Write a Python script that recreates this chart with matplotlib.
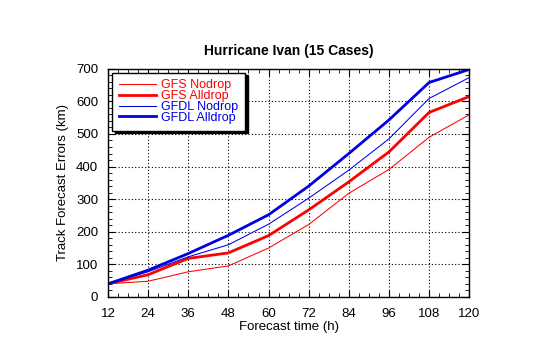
import numpy as np
import matplotlib
matplotlib.use("Agg")
import matplotlib.pyplot as plt
from matplotlib.ticker import MultipleLocator

plt.rcParams['font.family'] = ['Liberation Sans', 'DejaVu Sans']

# Track errors (km) for Ivan, 15 cases
hours = [12, 24, 36, 48, 60, 72, 84, 96, 108, 120]
gfs_nodrop = [40, 48, 77, 95, 150, 222, 318, 391, 490, 559]
gfs_alldrop = [40, 68, 118, 135, 188, 267, 353, 445, 566, 615]
gfdl_nodrop = [40, 77, 123, 160, 223, 303, 389, 485, 609, 673]
gfdl_alldrop = [40, 82, 133, 189, 252, 340, 440, 543, 658, 698]

red = "#ff0000"
blue = "#0000e0"

fig = plt.figure(figsize=(5.4, 3.44), dpi=100)
ax = fig.add_axes([0.2, 0.137, 0.669, 0.663])

ax.plot(hours, gfs_nodrop, color=red, lw=0.75, label="GFS Nodrop")
ax.plot(hours, gfs_alldrop, color=red, lw=2.0, label="GFS Alldrop")
ax.plot(hours, gfdl_nodrop, color=blue, lw=0.75, label="GFDL Nodrop")
ax.plot(hours, gfdl_alldrop, color=blue, lw=2.0, label="GFDL Alldrop")

ax.set_xlim(12, 120)
ax.set_ylim(0, 700)
ax.xaxis.set_major_locator(MultipleLocator(12))
ax.xaxis.set_minor_locator(MultipleLocator(3))
ax.yaxis.set_major_locator(MultipleLocator(100))
ax.yaxis.set_minor_locator(MultipleLocator(20))
ax.tick_params(which="both", direction="in", top=True, right=True,
               labelsize=9.5, color="black")
ax.tick_params(which="major", length=5)
ax.tick_params(which="minor", length=3)
ax.tick_params(axis="x", which="major", pad=8)
ax.tick_params(axis="y", which="major", pad=7)
ax.grid(True, which="major", color="black", ls=(0, (1, 2)), lw=0.8)
for s in ax.spines.values():
    s.set_linewidth(1.0)

ax.set_title("Hurricane Ivan (15 Cases)", fontsize=10, fontweight="bold", pad=10)
ax.set_xlabel("Forecast time (h)", fontsize=9.5, labelpad=1)
ax.set_ylabel("Track Forecast Errors (km)", fontsize=9.5, labelpad=5)

leg = ax.legend(loc="upper left", fontsize=9, frameon=True, fancybox=False,
                shadow={"color": "black", "alpha": 1},
                labelspacing=-0.1, handlelength=3.0, handletextpad=0.4,
                borderpad=0.55, borderaxespad=0.3,
                edgecolor="black", framealpha=1)
leg.get_frame().set_linewidth(1.0)
for txt, col in zip(leg.get_texts(), [red, red, blue, blue]):
    txt.set_color(col)

fig.savefig("out.png", dpi=100)
